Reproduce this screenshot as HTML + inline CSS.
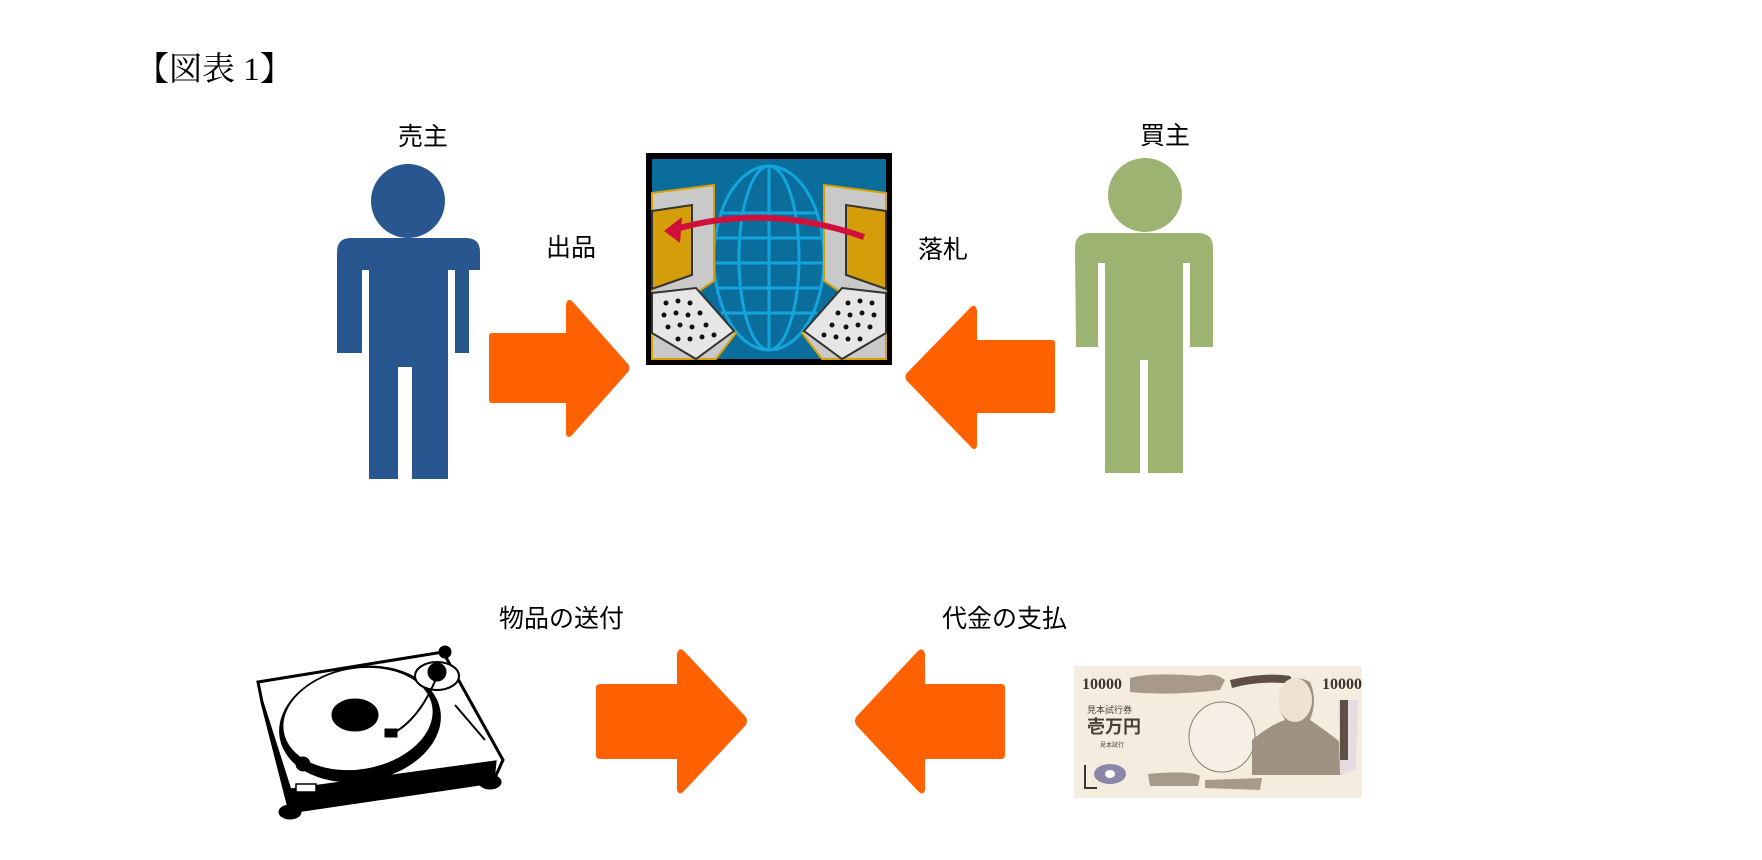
<!DOCTYPE html>
<html><head><meta charset="utf-8"><style>
html,body{margin:0;padding:0;background:#fff;}
body{width:1762px;height:860px;position:relative;overflow:hidden;}
.t{position:absolute;font-family:"Liberation Sans","Noto Sans CJK JP",sans-serif;font-size:25px;color:#000;line-height:1;white-space:nowrap;}
</style></head><body>
<div class="t" style="left:136px;top:54px;font-family:'Liberation Serif','Noto Serif CJK JP',serif;font-size:33px;">【図表 1】</div>
<div class="t" style="left:398px;top:125px;">売主</div>
<div class="t" style="left:1140px;top:124px;">買主</div>
<div class="t" style="left:546px;top:236px;">出品</div>
<div class="t" style="left:918px;top:238px;">落札</div>
<div class="t" style="left:499px;top:607px;">物品の送付</div>
<div class="t" style="left:942px;top:607px;">代金の支払</div>

<svg width="1762" height="860" style="position:absolute;left:0;top:0">
<g fill="#28568f">
<ellipse cx="408" cy="201" rx="37" ry="37"/>
<path d="M337,252 Q337,238 351,238 L466,238 Q480,238 480,252 L480,270 L469,270 L469,353 L455,353 L455,270 L455,270 L448,270 L448,479 L412,479 L412,367 L398,367 L398,479 L369,479 L369,270 L362,270 L362,353 L337,353 Z"/>
</g>
<g fill="#9db372">
<ellipse cx="1145" cy="195" rx="37" ry="37"/>
<path d="M1075,248 Q1075,233 1090,233 L1198,233 Q1213,233 1213,248 L1213,347 L1190,347 L1190,263 L1183,263 L1183,473 L1148,473 L1148,360 L1140,360 L1140,473 L1105,473 L1105,263 L1098,263 L1098,347 L1076,347 Z"/>
</g>
<g fill="#ff6000">
<path d="M489,336 Q489,333 492,333 L566,333 L566,304 Q568,297 573,302 L628,364 Q631,368 628,372 L573,434 Q568,440 566,434 L566,403 L492,403 Q489,403 489,400 Z"/>
<path d="M1055,343 Q1055,340 1052,340 L977,340 L977,310 Q975,303 970,308 L907,373 Q904,377 907,381 L970,446 Q975,452 977,446 L977,413 L1052,413 Q1055,413 1055,410 Z"/>
<path d="M596,688 Q596,684 600,684 L677,684 L677,654 Q679,646 685,652 L745,716 Q749,721 745,726 L685,790 Q679,797 677,790 L677,759 L600,759 Q596,759 596,755 Z"/>
<path d="M1005,688 Q1005,684 1001,684 L925,684 L925,654 Q923,646 917,652 L857,716 Q853,721 857,726 L917,790 Q923,797 925,790 L925,759 L1001,759 Q1005,759 1005,755 Z"/>
</g>
<g transform="translate(646,153)">
<rect x="0" y="0" width="246" height="212" fill="#000"/>
<rect x="6" y="6" width="234" height="200" fill="#0b6d9c"/>
<g fill="none" stroke="#13a4dc" stroke-width="3">
<ellipse cx="123" cy="105" rx="55" ry="92"/>
<ellipse cx="123" cy="105" rx="30" ry="92"/>
<line x1="123" y1="13" x2="123" y2="197"/>
<line x1="75" y1="60" x2="171" y2="60"/>
<line x1="70" y1="85" x2="176" y2="85"/>
<line x1="68" y1="110" x2="178" y2="110"/>
<line x1="70" y1="135" x2="176" y2="135"/>
<line x1="75" y1="160" x2="171" y2="160"/>
</g>
<path d="M6,40 L68,32 L68,128 L50,140 L90,180 L70,206 L6,206 Z" fill="#c9c9c9" stroke="#d8a000" stroke-width="2"/>
<path d="M6,58 L46,52 L46,122 L6,136 Z" fill="#d49e0a" stroke="#333" stroke-width="2"/>
<path d="M6,140 L50,135 L88,178 L50,206 L6,180 Z" fill="#e6e6e6" stroke="#333" stroke-width="2"/>
<path d="M240,40 L178,32 L178,128 L196,140 L156,180 L176,206 L240,206 Z" fill="#c9c9c9" stroke="#d8a000" stroke-width="2"/>
<path d="M240,58 L200,52 L200,122 L240,136 Z" fill="#d49e0a" stroke="#333" stroke-width="2"/>
<path d="M240,140 L196,135 L158,178 L196,206 L240,180 Z" fill="#e6e6e6" stroke="#333" stroke-width="2"/>
<g fill="#111">
<circle cx="20" cy="150" r="2.5"/><circle cx="32" cy="148" r="2.5"/><circle cx="44" cy="150" r="2.5"/>
<circle cx="18" cy="162" r="2.5"/><circle cx="30" cy="160" r="2.5"/><circle cx="42" cy="162" r="2.5"/><circle cx="54" cy="160" r="2.5"/>
<circle cx="22" cy="174" r="2.5"/><circle cx="34" cy="172" r="2.5"/><circle cx="46" cy="174" r="2.5"/><circle cx="60" cy="172" r="2.5"/>
<circle cx="32" cy="186" r="2.5"/><circle cx="44" cy="186" r="2.5"/><circle cx="56" cy="184" r="2.5"/><circle cx="68" cy="182" r="2.5"/>
<circle cx="226" cy="150" r="2.5"/><circle cx="214" cy="148" r="2.5"/><circle cx="202" cy="150" r="2.5"/>
<circle cx="228" cy="162" r="2.5"/><circle cx="216" cy="160" r="2.5"/><circle cx="204" cy="162" r="2.5"/><circle cx="192" cy="160" r="2.5"/>
<circle cx="224" cy="174" r="2.5"/><circle cx="212" cy="172" r="2.5"/><circle cx="200" cy="174" r="2.5"/><circle cx="186" cy="172" r="2.5"/>
<circle cx="214" cy="186" r="2.5"/><circle cx="202" cy="186" r="2.5"/><circle cx="190" cy="184" r="2.5"/><circle cx="178" cy="182" r="2.5"/>
</g>
<path d="M218,84 Q120,50 30,76" fill="none" stroke="#d0103a" stroke-width="6"/>
<path d="M18,78 L36,64 L34,90 Z" fill="#d0103a"/>
</g>
<g stroke="#000" stroke-width="3">
<path d="M258,682 L443,652 L503,760 L493,782 L290,810 L262,702 Z" fill="#fff"/>
<path d="M262,702 L290,790 L495,762 L493,782 L290,812 Z" fill="#000"/>
<ellipse cx="290" cy="812" rx="10" ry="6" fill="#000"/>
<ellipse cx="490" cy="782" rx="10" ry="6" fill="#000"/>
<ellipse cx="360" cy="724" rx="80" ry="56" transform="rotate(-10 360 724)" fill="#000"/>
<ellipse cx="358" cy="719" rx="76" ry="51" transform="rotate(-10 358 719)" fill="#fff" stroke-width="1.5"/>
<ellipse cx="355" cy="715" rx="22" ry="15" fill="#000"/>
<ellipse cx="437" cy="676" rx="22" ry="14" fill="#fff" stroke-width="2"/>
<circle cx="437" cy="672" r="8" fill="#000"/>
<circle cx="445" cy="652" r="5" fill="#000"/>
<path d="M437,676 Q420,720 390,735" fill="none" stroke-width="2"/>
<rect x="386" y="730" width="10" height="6" fill="#000"/>
<line x1="455" y1="705" x2="485" y2="740" stroke-width="2"/>
<circle cx="303" cy="764" r="6" fill="#000"/>
<rect x="296" y="784" width="20" height="8" fill="#fff" stroke-width="1.5"/>
</g>
<g>
<rect x="1074" y="666" width="288" height="132" fill="#f4ecdf"/>
<path d="M1130,678 Q1150,672 1200,676 Q1215,672 1225,680 L1220,690 Q1170,696 1130,692 Z" fill="#a79a8c"/>
<path d="M1230,680 Q1265,672 1290,676 L1295,684 Q1260,680 1232,688 Z" fill="#5e4f45"/>
<path d="M1148,774 Q1190,770 1200,776 L1198,786 L1150,786 Z" fill="#a79a8c"/>
<path d="M1205,780 L1262,778 L1260,790 L1205,788 Z" fill="#a79a8c"/>
<ellipse cx="1222" cy="737" rx="33" ry="35" fill="#f6efe5" stroke="#8a7d70" stroke-width="1"/>
<path d="M1252,775 L1252,740 Q1270,725 1285,720 Q1275,705 1280,690 Q1292,672 1310,682 Q1318,700 1310,720 Q1325,730 1340,742 L1342,775 Z" fill="#9f9284"/>
<ellipse cx="1295" cy="700" rx="17" ry="22" fill="#efe2d0"/>
<path d="M1338,700 L1358,700 L1356,770 L1340,775 Z" fill="#e5dbe0"/>
<rect x="1340" y="700" width="8" height="60" fill="#5e4f45"/>
<ellipse cx="1110" cy="774" rx="16" ry="10" fill="#8c86a8"/>
<ellipse cx="1110" cy="774" rx="5" ry="4" fill="#fff"/>
<path d="M1085,765 L1085,788 L1097,788" fill="none" stroke="#3d3530" stroke-width="2"/>
</g>
<g font-family="Liberation Serif, serif" fill="#3d3530">
<text x="1082" y="689" font-size="16" font-weight="bold">10000</text>
<text x="1322" y="689" font-size="16" font-weight="bold">10000</text>
</g>
<g font-family="Liberation Sans, Noto Sans CJK JP, sans-serif" fill="#4a3f38">
<text x="1087" y="713" font-size="9">見本試行券</text>
<text x="1087" y="733" font-size="18" font-weight="bold">壱万円</text>
<text x="1100" y="747" font-size="6">見本試行</text>
</g>
</svg>
</body></html>
